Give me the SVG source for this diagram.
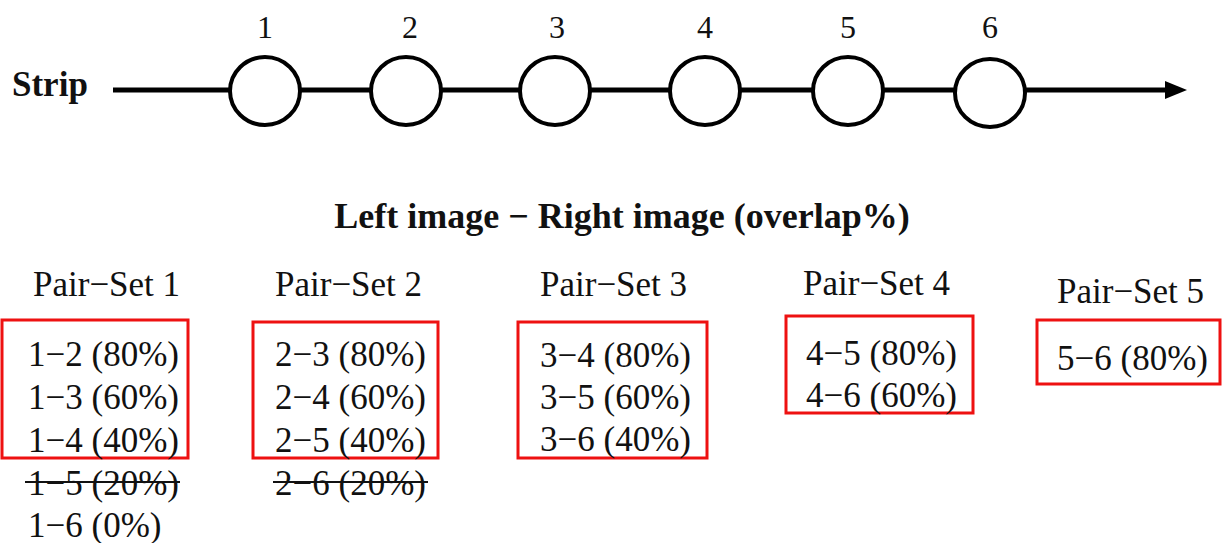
<svg xmlns="http://www.w3.org/2000/svg" width="1222" height="543" viewBox="0 0 1222 543">
  <style>
    .lbl { font-family: "Liberation Serif", "Times New Roman", serif; font-size: 35px; fill: #111; }
    .num { font-family: "Liberation Serif", "Times New Roman", serif; font-size: 32px; fill: #111; text-anchor: middle; }
    .bold { font-family: "Liberation Serif", "Times New Roman", serif; font-weight: bold; fill: #111; }
    .img { fill: #fff; stroke: #000; stroke-width: 4; }
    .box { fill: none; stroke: #ee1111; stroke-width: 3; }
    .strike { stroke: #111; stroke-width: 2; }
  </style>
  <rect width="1222" height="543" fill="#fff"/>

  <text class="bold" x="12" y="96" font-size="35">Strip</text>

  <!-- strip axis with arrowhead -->
  <g id="connectors">
    <line x1="113" y1="90" x2="1168" y2="90" stroke="#000" stroke-width="5"/>
    <polygon points="1165,81 1187,90 1165,99" fill="#000"/>
  </g>

  <g id="image-1"><ellipse class="img" cx="265" cy="91" rx="35" ry="34"/><text class="num" x="265" y="38">1</text></g>
  <g id="image-2"><ellipse class="img" cx="406" cy="91" rx="35" ry="34"/><text class="num" x="410" y="38">2</text></g>
  <g id="image-3"><ellipse class="img" cx="555" cy="91" rx="35" ry="34"/><text class="num" x="557" y="38">3</text></g>
  <g id="image-4"><ellipse class="img" cx="705" cy="91" rx="35" ry="34"/><text class="num" x="705" y="38">4</text></g>
  <g id="image-5"><ellipse class="img" cx="848" cy="91" rx="35" ry="34"/><text class="num" x="848" y="38">5</text></g>
  <g id="image-6"><ellipse class="img" cx="990" cy="93" rx="35" ry="34"/><text class="num" x="990" y="38">6</text></g>

  <text class="bold" x="622" y="228" font-size="36" text-anchor="middle">Left image − Right image (overlap%)</text>

  <g id="pair-set-1">
    <text class="lbl" x="33" y="296">Pair−Set 1</text>
    <rect class="box" x="2" y="320" width="186" height="138"/>
    <text class="lbl" x="28" y="366">1−2 (80%)</text>
    <text class="lbl" x="28" y="409">1−3 (60%)</text>
    <text class="lbl" x="28" y="452">1−4 (40%)</text>
    <text class="lbl" x="28" y="495">1−5 (20%)</text>
    <line class="strike" x1="25" y1="482" x2="180" y2="482"/>
    <text class="lbl" x="28" y="537">1−6 (0%)</text>
  </g>

  <g id="pair-set-2">
    <text class="lbl" x="275" y="296">Pair−Set 2</text>
    <rect class="box" x="253" y="322" width="185" height="136"/>
    <text class="lbl" x="275" y="366">2−3 (80%)</text>
    <text class="lbl" x="275" y="409">2−4 (60%)</text>
    <text class="lbl" x="275" y="452">2−5 (40%)</text>
    <text class="lbl" x="275" y="495">2−6 (20%)</text>
    <line class="strike" x1="273" y1="482" x2="428" y2="482"/>
  </g>

  <g id="pair-set-3">
    <text class="lbl" x="540" y="296">Pair−Set 3</text>
    <rect class="box" x="518" y="322" width="189" height="136"/>
    <text class="lbl" x="540" y="367">3−4 (80%)</text>
    <text class="lbl" x="540" y="409">3−5 (60%)</text>
    <text class="lbl" x="540" y="451">3−6 (40%)</text>
  </g>

  <g id="pair-set-4">
    <text class="lbl" x="803" y="295">Pair−Set 4</text>
    <rect class="box" x="786" y="316" width="187" height="97"/>
    <text class="lbl" x="806" y="365">4−5 (80%)</text>
    <text class="lbl" x="806" y="407">4−6 (60%)</text>
  </g>

  <g id="pair-set-5">
    <text class="lbl" x="1057" y="303">Pair−Set 5</text>
    <rect class="box" x="1037" y="320" width="183" height="64"/>
    <text class="lbl" x="1057" y="370">5−6 (80%)</text>
  </g>
</svg>
